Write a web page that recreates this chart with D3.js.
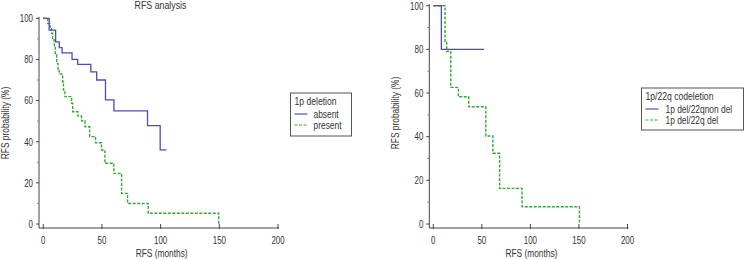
<!DOCTYPE html>
<html>
<head>
<meta charset="utf-8">
<script src="https://cdn.jsdelivr.net/npm/d3@7"></script>
<style>
    body { margin: 0; background: #fff; }
    svg text { font-family: "Liberation Sans", Arial, sans-serif; fill: #333; }
</style>
</head>
<body>
<script>
// Tick labels
const xTicks = [0, 50, 100, 150, 200];
const yTicks = [0, 20, 40, 60, 80, 100];

// Left panel: 1p deletion
const absentTime = [0, 5, 10.5, 13.6, 16, 24.5, 29.3, 40.5, 45.5, 53, 60.2, 88.8, 99.6, 105];
const absentSurv = [100, 94.3, 88.5, 85.7, 83.2, 80.0, 77.6, 74.0, 70.0, 60.3, 55.0, 47.8, 36.0, 36.0];
const presentTime = [0, 3.8, 5.8, 6.9, 8, 9.4, 10.2, 11.4, 12.5, 13.6, 16.5, 17.2, 18.4, 24.1, 25, 29.5, 32.6, 35.5, 39.5, 44.5, 49.6, 52.5, 60.1, 66.7, 71.8, 89.4, 149.5];
const presentSurv = [100, 97.5, 95, 92.7, 89.5, 86.2, 82.2, 78.1, 75, 72.9, 69, 65.1, 61.9, 58.7, 54.6, 52.5, 50.2, 47.3, 42.5, 39.5, 36, 29.5, 24.6, 14.9, 10, 5.2, 0];

// Right panel: 1p/22q codeletion
const nonDelTime = [0, 8.3, 52.4];
const nonDelSurv = [100, 80, 80];
const delTime = [0, 12.1, 13.8, 18.0, 25.8, 36.5, 54.1, 61.4, 68.3, 91.4, 150.5];
const delSurv = [100, 83.5, 79, 62.6, 58.3, 53.7, 40.3, 32.4, 16.3, 7.9, 0];

const blue = "#4d4db3";
const green = "#33aa33";
const axisColor = "#444";

const svg = d3.select("body").append("svg")
    .attr("width", 744)
    .attr("height", 259);

function zip(t, s) {
    return t.map((d, i) => [d, s[i]]);
}

// the source uses a squeezed font, so text gets a horizontal scale
function label(g, x, y, txt, size, sx, anchor, rot) {
    return g.append("text")
        .attr("transform", `translate(${x},${y})` + (rot ? ` rotate(${rot})` : "") + ` scale(${sx},1)`)
        .attr("text-anchor", anchor || "start")
        .attr("font-size", size + "px")
        .text(txt);
}

function panel(p) {
    const x = d3.scaleLinear().domain([0, 200]).range([p.x0, p.x1]);
    const y = d3.scaleLinear().domain([0, 100]).range([224, p.yTop]);
    const g = svg.append("g");

    // y axis line, offset left of x=0
    g.append("line")
        .attr("x1", p.axX).attr("x2", p.axX)
        .attr("y1", 228).attr("y2", p.yTop - 1.5)
        .attr("stroke", axisColor);
    // x axis line
    g.append("line")
        .attr("x1", p.axX).attr("x2", x(200) + 1)
        .attr("y1", 228).attr("y2", 228)
        .attr("stroke", axisColor);

    // y ticks
    g.selectAll(".yt").data(yTicks).enter().append("line")
        .attr("x1", p.axX - 3).attr("x2", p.axX)
        .attr("y1", d => y(d)).attr("y2", d => y(d))
        .attr("stroke", axisColor);
    g.selectAll(".ym").data([10, 30, 50, 70, 90]).enter().append("line")
        .attr("x1", p.axX - 2).attr("x2", p.axX)
        .attr("y1", d => y(d)).attr("y2", d => y(d))
        .attr("stroke", "#888");
    yTicks.forEach(d => label(g, p.axX - 6, y(d) + 3.8, d, 11, 0.72, "end"));

    // x ticks
    g.selectAll(".xt").data(xTicks).enter().append("line")
        .attr("x1", d => x(d)).attr("x2", d => x(d))
        .attr("y1", 224).attr("y2", 229)
        .attr("stroke", axisColor);
    xTicks.forEach(d => label(g, x(d), 244, d, 11, 0.72, "middle"));

    // axis titles
    label(g, (p.x0 + p.x1) / 2 + 1, 256.5, "RFS (months)", 11, 0.76, "middle");
    label(g, p.yLabX, p.yLabY, "RFS probability (%)", 11, 0.76, "middle", -90);

    // survival curves
    const line = d3.line()
        .x(d => x(d[0]))
        .y(d => y(d[1]))
        .curve(d3.curveStepAfter);

    g.append("path")
        .datum(p.dashed)
        .attr("d", line)
        .attr("fill", "none")
        .attr("stroke", green)
        .attr("stroke-width", 1.4)
        .attr("stroke-dasharray", "3,1.5");
    g.append("path")
        .datum(p.solid)
        .attr("d", line)
        .attr("fill", "none")
        .attr("stroke", blue)
        .attr("stroke-width", 1.3);

    // legend
    const L = p.legend;
    g.append("rect")
        .attr("x", L.x).attr("y", L.y)
        .attr("width", L.w).attr("height", L.h)
        .attr("fill", "#fff")
        .attr("stroke", "#555");
    label(g, L.x + 4, L.y + 12, L.title, 10.5, 0.82);
    L.items.forEach((it, i) => {
        const ly = L.y + 21 + i * 11;
        g.append("line")
            .attr("x1", L.x + 4).attr("x2", L.x + 17)
            .attr("y1", ly).attr("y2", ly)
            .attr("stroke", it.color)
            .attr("stroke-width", 1.2)
            .attr("stroke-dasharray", it.dash ? "3,1.5" : null);
        label(g, L.x + L.tx, ly + 3.5, it.label, 10.5, 0.8);
    });
}

panel({
    x0: 43.3, x1: 278, yTop: 18.3, axX: 39,
    yLabX: 9, yLabY: 123,
    solid: zip(absentTime, absentSurv),
    dashed: zip(presentTime, presentSurv),
    legend: {
        x: 290.5, y: 93, w: 61, h: 43, tx: 23, title: "1p deletion",
        items: [
            {label: "absent", color: blue, dash: false},
            {label: "present", color: green, dash: true}
        ]
    }
});

panel({
    x0: 433.3, x1: 627.5, yTop: 5.7, axX: 429.3,
    yLabX: 399, yLabY: 113,
    solid: zip(nonDelTime, nonDelSurv),
    dashed: zip(delTime, delSurv),
    legend: {
        x: 641.5, y: 88, w: 102, h: 42, tx: 24, title: "1p/22q codeletion",
        items: [
            {label: "1p del/22qnon del", color: blue, dash: false},
            {label: "1p del/22q del", color: green, dash: true}
        ]
    }
});

// title of left panel
label(svg, 160.5, 9, "RFS analysis", 11, 0.8, "middle");
</script>
</body>
</html>
